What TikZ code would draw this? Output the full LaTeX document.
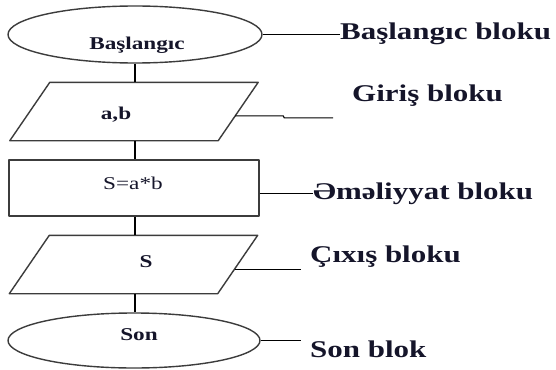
\documentclass[tikz,border=0pt]{standalone}
\usepackage{fontspec}
\usetikzlibrary{shapes.geometric,calc}
\setmainfont{Liberation Serif}
\newfontfamily\widefont[FakeStretch=1.29]{Liberation Serif}
\definecolor{outline}{HTML}{3C3C3C}
\definecolor{ink}{HTML}{15152A}
\tikzset{
  shapeline/.style={draw=outline, line width=1.4pt, line join=round},
  termbox/.style={shapeline, ellipse, inner sep=0pt},
  % invisible frame of an input/output block; the slanted outline is drawn from its corners
  ioframe/.style={rectangle, minimum width=248pt, minimum height=58pt, inner sep=0pt},
  procbox/.style={shapeline, rectangle, minimum width=250pt,
    minimum height=56pt, inner sep=0pt},
  link/.style={draw=black, line width=1.1pt},
  innertext/.style={inner sep=0pt, anchor=base, text=ink,
    font=\widefont\bfseries\fontsize{18}{21}\selectfont},
  plaintext/.style={inner sep=0pt, anchor=base, text=ink,
    font=\widefont\fontsize{18}{21}\selectfont},
  blocklabel/.style={inner sep=0pt, anchor=base west, text=ink,
    font=\widefont\bfseries\fontsize{24}{28}\selectfont},
}
\begin{document}
\begin{tikzpicture}[x=1pt, y=-1pt]
  \useasboundingbox (0,0) rectangle (556,369);
  \fill[white] (0,0) rectangle (556,369);

  % flowchart blocks
  \node[termbox, minimum width=254pt, minimum height=57pt] (start) at (135,34.5) {};
  \node[ioframe] (input) at (134,111.5) {};
  \draw[shapeline] ($(input.north west)+(40,0)$) -- (input.north east)
    -- ($(input.south east)+(-40,0)$) -- (input.south west) -- cycle;
  \node[procbox] (proc) at (134,188) {};
  \node[ioframe] (output) at (133.5,264.5) {};
  \draw[shapeline] ($(output.north west)+(40,0)$) -- (output.north east)
    -- ($(output.south east)+(-40,0)$) -- (output.south west) -- cycle;
  \node[termbox, minimum width=252pt, minimum height=55pt] (stop) at (134,340.5) {};

  % texts inside the blocks
  \node[innertext] (tstart) at (137,49) {Başlangıc};
  \node[innertext] (tinput) at (116,119) {a,b};
  \node[plaintext] (tproc) at (133,189) {S=a*b};
  \node[innertext] (toutput) at (146,267) {S};
  \node[innertext] (tstop) at (139,340) {Son};

  % vertical flow connectors
  \draw[link] (start.south) -- (input.north -| start.south);
  \draw[link] (input.south -| start.south) -- (proc.north -| start.south);
  \draw[link] (proc.south -| start.south) -- (output.north -| start.south);
  \draw[link] (output.south -| start.south) -- (stop.north -| start.south);

  % block labels
  \node[blocklabel] (lstart) at (340,40) {Başlangıc bloku};
  \node[blocklabel] (linput) at (352,101) {Giriş bloku};
  \node[blocklabel] (lproc) at (313,199) {Əməliyyat bloku};
  \node[blocklabel] (loutput) at (310,262) {Çıxış bloku};
  \node[blocklabel] (lstop) at (310,357) {Son blok};

  % leader lines from blocks to labels
  \draw[link] (start.east) -- (start.east -| lstart.west);
  \coordinate (pin) at ($(input.north east)!0.575!($(input.south east)+(-40,0)$)$);
  \draw[link] (pin) -- ++(48,0) -- ++(1,2) -- ++(49,0);
  \coordinate (pproc) at ($(proc.north east)!0.59!(proc.south east)$);
  \draw[link] (pproc) -- (pproc -| lproc.west);
  \coordinate (pout) at ($(output.north east)!0.58!($(output.south east)+(-40,0)$)$);
  \draw[link] (pout) -- ++(66,0);
  \draw[link] (stop.east) -- ++(40,0);
\end{tikzpicture}
\end{document}
